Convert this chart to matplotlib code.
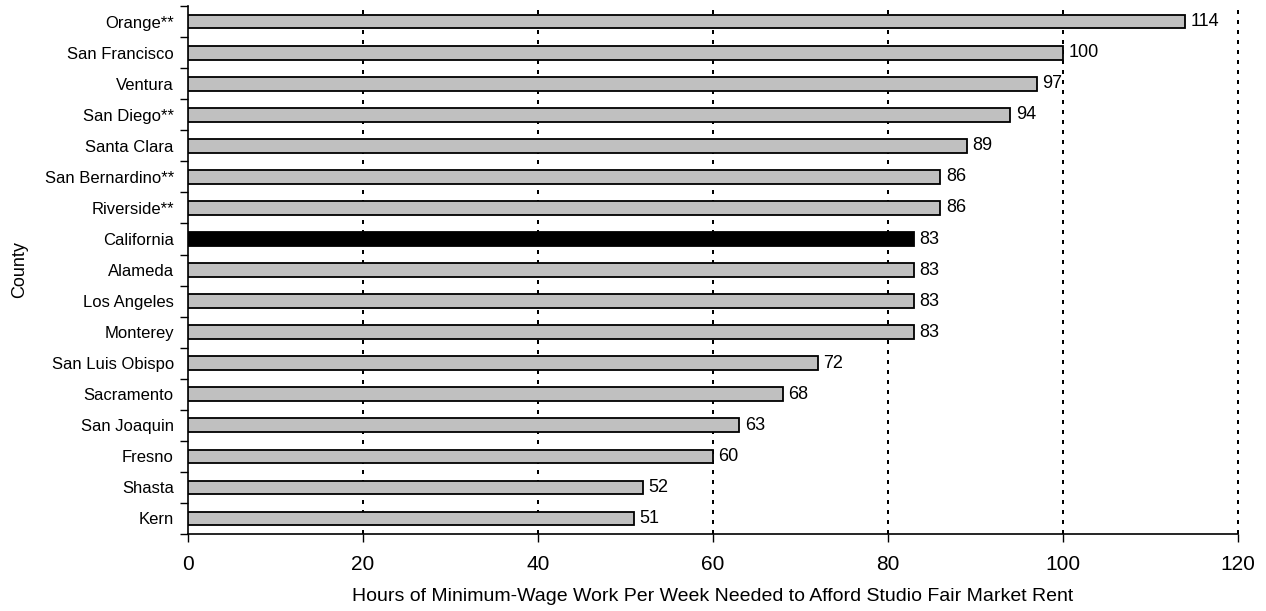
import matplotlib
matplotlib.use("Agg")
import matplotlib.pyplot as plt
import numpy as np

counties = ["Orange**", "San Francisco", "Ventura", "San Diego**", "Santa Clara",
            "San Bernardino**", "Riverside**", "California", "Alameda", "Los Angeles",
            "Monterey", "San Luis Obispo", "Sacramento", "San Joaquin", "Fresno",
            "Shasta", "Kern"]
hours = [114, 100, 97, 94, 89, 86, 86, 83, 83, 83, 83, 72, 68, 63, 60, 52, 51]
x_ticks = [0, 20, 40, 60, 80, 100, 120]
highlight = "California"

plt.rcParams["font.family"] = ["Liberation Sans", "DejaVu Sans"]

fig = plt.figure(figsize=(12.66, 6.11), dpi=100)
ax = fig.add_axes([0.1483, 0.126, 0.8294, 0.864])

y = np.arange(len(counties))
colors = ["black" if c == highlight else "#c0c0c0" for c in counties]
ax.barh(y, hours, height=0.44, color=colors, edgecolor="black", linewidth=1.3, zorder=3)

for yi, v in zip(y, hours):
    ax.text(v + 0.65, yi, f"{v}", va="center", ha="left", fontsize=13, zorder=4)

ax.set_xlim(0, 120)
ax.set_ylim(len(counties) - 0.5, -0.5)

# vertical dashed gridlines (unclipped so the one at the right edge keeps full width)
for t in x_ticks[1:]:
    ax.axvline(t, color="black", linestyle=(0, (2, 3)), linewidth=1.44, zorder=1,
               clip_on=False)

ax.set_xticks(x_ticks)
ax.set_xticklabels([str(t) for t in x_ticks], fontsize=15)
ax.tick_params(axis="x", direction="out", length=6, width=1, pad=9)

# category ticks sit between bars, labels at bar centres
ax.set_yticks(np.arange(len(counties) + 1) - 0.5)
ax.set_yticklabels([])
ax.set_yticks(y, minor=True)
ax.set_yticklabels(counties, minor=True, fontsize=12)
ax.tick_params(axis="y", which="major", direction="out", length=6, width=1)
ax.tick_params(axis="y", which="minor", length=0, pad=10)

for s in ["top", "right"]:
    ax.spines[s].set_visible(False)
for s in ["left", "bottom"]:
    ax.spines[s].set_linewidth(1.2)

ax.set_xlabel("Hours of Minimum-Wage Work Per Week Needed to Afford Studio Fair Market Rent",
              fontsize=14, labelpad=10)
ax.set_ylabel("County", fontsize=13, labelpad=12)

fig.savefig("out.png", dpi=100)
